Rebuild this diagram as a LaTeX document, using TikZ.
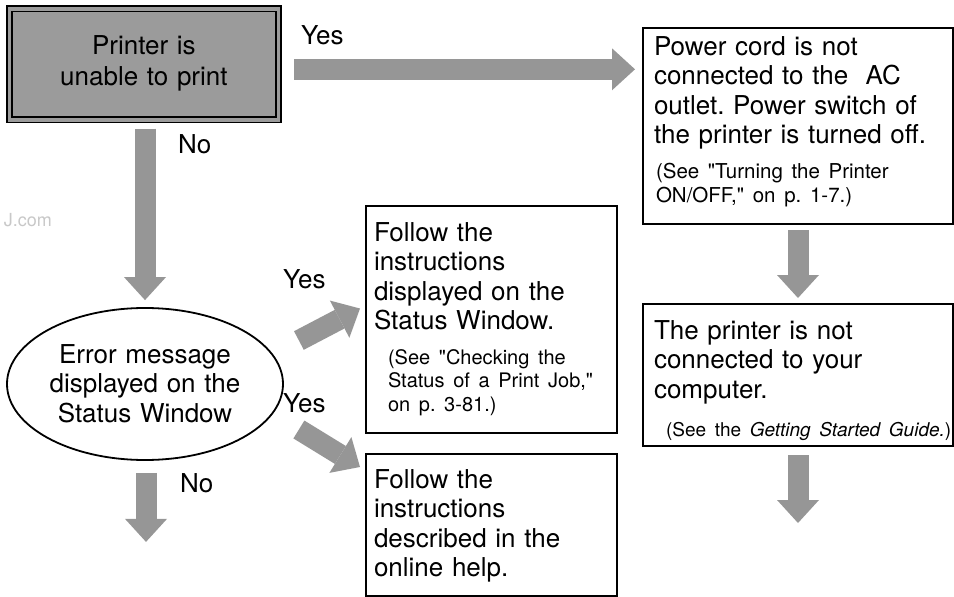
\documentclass[tikz,border=0pt]{standalone}
\usepackage{fontspec}
\setmainfont{TeX Gyre Heros}
\usepackage{tikz}
\usetikzlibrary{arrows.meta, shapes.geometric, calc}

\definecolor{arrowgray}{RGB}{150,150,150}
\definecolor{boxgray}{RGB}{155,155,155}
\definecolor{markgray}{RGB}{200,200,200}

\newcommand\maintext{\fontsize{26}{29.5}\selectfont\parindent=0pt }
\newcommand\seenote[4][20]{\par\vspace{#2}{\fontsize{#1}{23.5}\selectfont\leftskip=#3\relax #4\par}}
\frenchspacing

\begin{document}
\begin{tikzpicture}[x=1pt, y=-1pt,
    blockarrow/.style={arrowgray, line width=21pt,
        -{Triangle[length=23pt, width=42pt, line width=0pt]}},
    infobox/.style={draw, line width=2pt, anchor=north west, inner sep=0pt,
        inner xsep=#1, align=left, font=\maintext},
    lbl/.style={font=\maintext, inner sep=0pt, anchor=base west}]
            \useasboundingbox (0,0) rectangle (954,597);

            % Watermark
            \node[font=\fontsize{18}{20}\selectfont, text=markgray, anchor=base east, inner sep=0pt] (mark) at (52,226) {J.com};

            % Start box and decision
            \node[draw=black, line width=1.6pt, double=boxgray, double distance=3.6pt, fill=boxgray,
                anchor=north west, inner sep=0pt, text width=268.75pt, text height=46pt, text depth=65pt,
                align=center, font=\fontsize{26}{31}\selectfont] (start) at (8.75,8) {Printer is\\unable to print};
            \node[ellipse, draw, line width=1.8pt, minimum width=276pt, minimum height=152pt, inner sep=0pt,
                text width=192pt, text height=20pt, text depth=62pt, align=center, font=\maintext]
                (err) at (145,384) {Error message\\displayed on the\\Status Window};

            % Cause and action boxes
            \node[infobox=11pt, text width=288pt, text height=27pt, text depth=169pt] (power) at (642,27)
                {Power cord is not\\connected to the~ AC\\outlet. Power switch of\\the printer is turned off.%
                \seenote[20.5]{12pt}{2pt}{(See \textquotedbl{}Turning the Printer\\ON/OFF,\textquotedbl{} on p. 1-7.)}};
            \node[infobox=8pt, text width=235pt, text height=35pt, text depth=192pt] (instr) at (365,205)
                {Follow the\\instructions\\displayed on the\\Status Window.%
                \seenote{11pt}{14pt}{(See \textquotedbl{}Checking the\\Status of a Print Job,\textquotedbl{}\\on p. 3-81.)}};
            \node[infobox=8pt, text width=235pt, text height=34pt, text depth=108pt] (help) at (365,453)
                {Follow the\\instructions\\described in the\\online help.};
            \node[infobox=11pt, text width=288pt, text height=35pt, text depth=107pt] (printer) at (642,303)
                {The printer is not\\connected to your\\computer.%
                \seenote[19]{15pt}{12pt}{\mbox{(See the \textit{Getting Started Guide.})}}};

            % Block arrows
            \coordinate (yesout) at ($(start.east)+(0,5)$);
            \draw[blockarrow, shorten <=15pt, shorten >=7pt] (yesout) -- (yesout -| power.west);
            \draw[blockarrow, shorten <=8pt, shorten >=7pt] (start.south -| err.north) -- (err.north);
            \draw[blockarrow] ($(err.east)+(15,-43.5)$) -- ($(instr.west)+(-5,-11)$);
            \draw[blockarrow] ($(err.east)+(15,45.5)$) -- ($(help.north west)+(-5,14)$);
            \draw[blockarrow, shorten <=5pt, shorten >=5pt] (power.south) -- (printer.north);
            \coordinate (printerout) at ($(printer.south)+(0,76)$);
            \draw[blockarrow, shorten <=8pt] (printer.south) -- (printerout);
            \coordinate (errout) at ($(err.south)+(1,81)$);
            \draw[blockarrow, shorten <=12pt] (err.south -| errout) -- (errout);

            % Yes / No labels
            \node[lbl] (yes1) at (301,45) {Yes};
            \node[lbl] (no1) at (178,153) {No};
            \node[lbl] (yes2) at (283,288) {Yes};
            \node[lbl] (yes3) at (283,412) {Yes};
            \node[lbl] (no2) at (180,492) {No};
        \end{tikzpicture}
\end{document}
